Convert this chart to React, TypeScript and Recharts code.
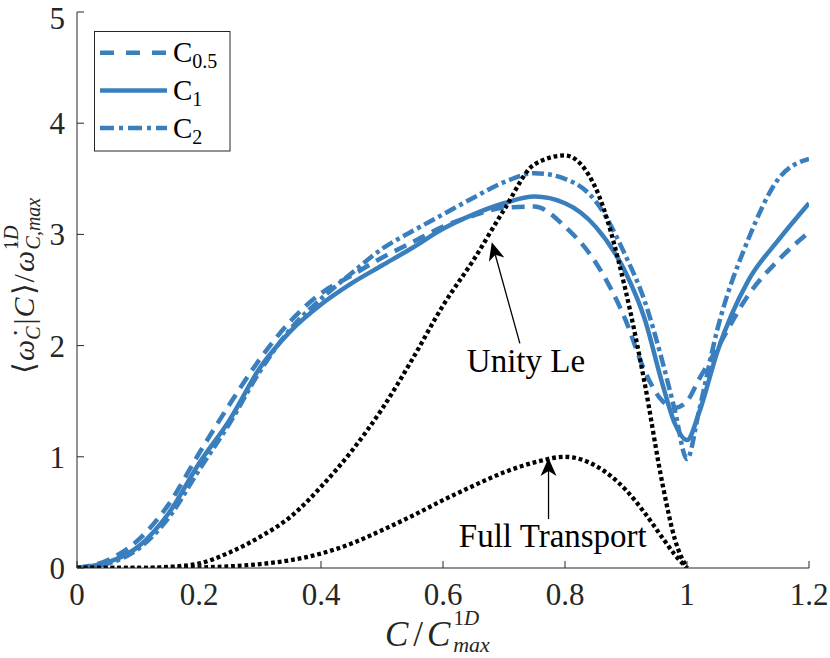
import React from "react";
import { LineChart, Line, XAxis, YAxis, ReferenceLine, ReferenceDot } from "recharts";

// shared x grid (C / C_max^1D)
const XS = [0, 0.05, 0.1, 0.15, 0.2, 0.25, 0.3, 0.35, 0.4, 0.45, 0.5, 0.55, 0.6, 0.65, 0.7, 0.75, 0.8, 0.85, 0.9, 0.93, 0.96, 0.98, 1.0, 1.02, 1.05, 1.1, 1.15, 1.2];

const C05 = [0, 0.07, 0.25, 0.57, 1.03, 1.47, 1.88, 2.22, 2.47, 2.63, 2.79, 2.93, 3.07, 3.17, 3.24, 3.25, 3.07, 2.75, 2.22, 1.78, 1.5, 1.44, 1.5, 1.7, 1.98, 2.45, 2.77, 3.02];
const C1 = [0, 0.05, 0.19, 0.49, 0.94, 1.33, 1.8, 2.13, 2.37, 2.56, 2.72, 2.88, 3.05, 3.18, 3.28, 3.34, 3.28, 3.07, 2.65, 2.25, 1.65, 1.3, 1.15, 1.4, 1.95, 2.58, 2.95, 3.28];
const C2 = [0, 0.04, 0.17, 0.45, 0.88, 1.3, 1.77, 2.15, 2.42, 2.65, 2.87, 3.03, 3.18, 3.33, 3.47, 3.55, 3.5, 3.3, 2.8, 2.41, 1.85, 1.42, 0.98, 1.42, 2.15, 2.95, 3.5, 3.68];
const UNITY_LE = [0, 0, 0, 0.01, 0.04, 0.14, 0.28, 0.46, 0.73, 1.05, 1.43, 1.88, 2.36, 2.77, 3.22, 3.63, 3.71, 3.42, 2.48, 1.68, 0.75, 0.26, 0, null, null, null, null, null];
const FULL_TRANSPORT = [0, 0, 0, 0, 0.005, 0.015, 0.035, 0.07, 0.13, 0.22, 0.34, 0.47, 0.61, 0.74, 0.86, 0.95, 1.0, 0.92, 0.7, 0.5, 0.27, 0.12, 0, null, null, null, null, null];

const X_TICKS = [0, 0.2, 0.4, 0.6, 0.8, 1, 1.2];
const Y_TICKS = [0, 1, 2, 3, 4, 5];

const SERIES = [
  { key: "c05", sub: "0.5", dash: "13 8", legendDash: "14 12" },
  { key: "c1", sub: "1", dash: undefined, legendDash: undefined },
  { key: "c2", sub: "2", dash: "12 4 4 4", legendDash: "14 5 4 5" },
];

// annotation text + arrows, in data units
const ANNOTATIONS = [
  { text: "Unity Le", tx: 0.736, ty: 1.87, tail: [0.726, 2.02], tip: [0.68, 2.93] },
  { text: "Full Transport", tx: 0.78, ty: 0.29, tail: [0.773, 0.44], tip: [0.773, 0.99] },
];

const BLUE = "#3a7fbd";
const AXIS = "#262626";
const FONT = "Liberation Serif, serif";
const OMEGA_DOT = "\u03C9\u0307";

const data = XS.map((x, i) => ({
  x,
  c05: C05[i],
  c1: C1[i],
  c2: C2[i],
  unity: UNITY_LE[i],
  full: FULL_TRANSPORT[i],
}));

function Arrow(props: any) {
  const { x1, y1, x2, y2 } = props;
  const dx = x2 - x1;
  const dy = y2 - y1;
  const len = Math.hypot(dx, dy) || 1;
  const ux = dx / len;
  const uy = dy / len;
  const px = -uy;
  const py = ux;
  const L = 18;
  const W = 8;
  const bx = x2 - ux * L;
  const by = y2 - uy * L;
  const nx = x2 - ux * (L - 5);
  const ny = y2 - uy * (L - 5);
  return (
    <g>
      <line x1={x1} y1={y1} x2={nx} y2={ny} stroke="#000" strokeWidth={1.3} />
      <polygon
        points={`${x2},${y2} ${bx + px * W},${by + py * W} ${nx},${ny} ${bx - px * W},${by - py * W}`}
        fill="#000"
      />
    </g>
  );
}

function XLabel() {
  return (
    <text x={385} y={646} style={{ fontFamily: FONT }} fontSize={35} fill={AXIS}>
      <tspan fontStyle="italic">C</tspan>
      <tspan dx={5}>/</tspan>
      <tspan fontStyle="italic" dx={4}>C</tspan>
      <tspan fontSize={21} dy={-21} dx={3}>1</tspan>
      <tspan fontSize={21} fontStyle="italic">D</tspan>
      <tspan fontStyle="italic" fontSize={22} dx={-26} dy={27}>max</tspan>
    </text>
  );
}

function YLabel() {
  return (
    <text transform="rotate(-90)" x={-374} y={34} style={{ fontFamily: FONT }} fontSize={30} fill={AXIS}>
      <tspan>⟨</tspan>
      <tspan fontStyle="italic" dx={1}>{OMEGA_DOT}</tspan>
      <tspan fontStyle="italic" fontSize={20} dy={6}>C</tspan>
      <tspan dy={-6} dx={2}>|</tspan>
      <tspan fontStyle="italic" dx={1}>C</tspan>
      <tspan dx={2}>⟩</tspan>
      <tspan dx={1}>/</tspan>
      <tspan fontStyle="italic" dx={2}>{OMEGA_DOT}</tspan>
      <tspan fontSize={20} dy={-16} dx={1}>1</tspan>
      <tspan fontSize={20} fontStyle="italic">D</tspan>
      <tspan fontStyle="italic" fontSize={20} dx={-24} dy={22}>C,max</tspan>
    </text>
  );
}

function LegendBox() {
  return (
    <svg
      width={830}
      height={658}
      style={{ position: "absolute", left: 0, top: 0, pointerEvents: "none" }}
    >
      <rect x={94.5} y={31.5} width={135.5} height={119.5} fill="#fff" stroke={AXIS} strokeWidth={1} />
      {SERIES.map((s, i) => (
        <g key={s.key}>
          <line
            x1={100}
            x2={167}
            y1={52.7 + i * 37.7}
            y2={52.7 + i * 37.7}
            stroke={BLUE}
            strokeWidth={4.5}
            strokeDasharray={s.legendDash}
          />
          <text x={173} y={62 + i * 38} style={{ fontFamily: FONT }} fontSize={29} fill="#000">
            C
            <tspan fontSize={20} dy={6}>
              {s.sub}
            </tspan>
          </text>
        </g>
      ))}
    </svg>
  );
}

export default function App() {
  return (
    <div style={{ position: "absolute", left: 0, top: 0, width: 830, height: 658, background: "#fff", fontFamily: FONT }}>
      <LineChart width={830} height={658} data={data} margin={{ top: 12, right: 21, left: 0, bottom: 0 }}>
        <XAxis
          type="number"
          dataKey="x"
          domain={[0, 1.2]}
          ticks={X_TICKS}
          tickFormatter={(v: number) => String(v)}
          allowDataOverflow
          height={90}
          stroke={AXIS}
          tickSize={-7}
          tickMargin={22}
          tick={{ fill: AXIS, fontSize: 31, fontFamily: FONT }}
          label={<XLabel />}
        />
        <YAxis
          type="number"
          domain={[0, 5]}
          ticks={Y_TICKS}
          allowDataOverflow
          width={77}
          stroke={AXIS}
          tickSize={-7}
          tickMargin={19}
          tick={{ fill: AXIS, fontSize: 31, fontFamily: FONT }}
          label={<YLabel />}
        />
        {SERIES.map((s) => (
          <Line
            key={s.key}
            dataKey={s.key}
            type="monotone"
            stroke={BLUE}
            strokeWidth={4.5}
            strokeDasharray={s.dash}
            dot={false}
            activeDot={false}
            isAnimationActive={false}
          />
        ))}
        <Line dataKey="unity" type="monotone" stroke="#000" strokeWidth={4.3} strokeDasharray="3.8 2.9" dot={false} activeDot={false} isAnimationActive={false} />
        <Line dataKey="full" type="monotone" stroke="#000" strokeWidth={4.3} strokeDasharray="3.8 2.9" dot={false} activeDot={false} isAnimationActive={false} />
        {ANNOTATIONS.map((a) => (
          <ReferenceLine
            key={a.text + "-arrow"}
            segment={[
              { x: a.tail[0], y: a.tail[1] },
              { x: a.tip[0], y: a.tip[1] },
            ]}
            shape={(p: any) => <Arrow {...p} />}
          />
        ))}
        {ANNOTATIONS.map((a) => (
          <ReferenceDot
            key={a.text}
            x={a.tx}
            y={a.ty}
            r={0}
            stroke="none"
            fill="none"
            label={{ value: a.text, position: "center", fontSize: 33, fontFamily: FONT, fill: "#000" }}
          />
        ))}
      </LineChart>
      <LegendBox />
    </div>
  );
}
